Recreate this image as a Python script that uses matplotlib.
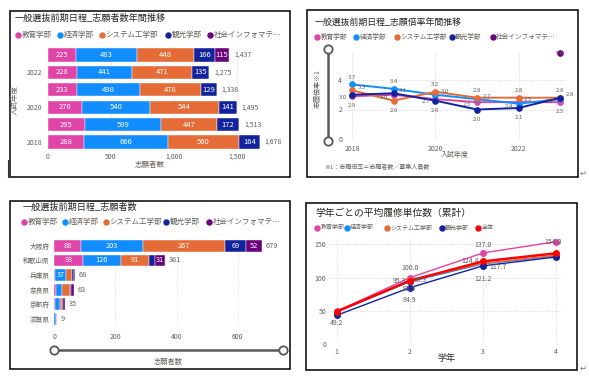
import numpy as np
import matplotlib
matplotlib.use("Agg")
import matplotlib.pyplot as plt
from matplotlib.lines import Line2D
from matplotlib.patches import Rectangle

plt.rcParams['font.family'] = ['Noto Sans CJK JP', 'DejaVu Sans']

W, H = 589, 381
GRAY = '#605E5C'
DARK = '#252423'

# ---- data ----
depts = ['教育学部', '経済学部', 'システム工学部', '観光学部', '社会インフォマテ…']
colors = ['#E044A7', '#118DFF', '#E66C37', '#12239E', '#6B007B']

# panel 1: applicants by year
years = [2018, 2019, 2020, 2021, 2022, 2023]
apps_edu = [288, 295, 270, 233, 228, 225]
apps_eco = [666, 599, 540, 498, 441, 483]
apps_sys = [560, 447, 544, 478, 471, 448]
apps_tour = [164, 172, 141, 129, 135, 166]
apps_info = [0, 0, 0, 0, 0, 115]

# panel 2: application rate by year
rate_edu = [2.9, 3.0, 2.7, 2.5, 2.5, 2.5]
rate_eco = [3.7, 3.4, 3.0, 2.7, 2.4, 2.7]
rate_sys = [3.3, 2.6, 3.2, 2.8, 2.8, 2.8]
rate_tour = [3.0, 3.1, 2.6, 2.0, 2.1, 2.8]
rate_info = [np.nan, np.nan, np.nan, np.nan, np.nan, 5.8]

# panel 3: applicants by prefecture
prefs = ['大阪府', '和歌山県', '兵庫県', '奈良県', '京都府', '滋賀県']
pref_edu = [88, 93, 2, 4, 2, 0]
pref_eco = [203, 126, 37, 20, 18, 6]
pref_sys = [267, 91, 18, 27, 5, 2]
pref_tour = [69, 20, 7, 4, 4, 0]
pref_info = [52, 31, 4, 8, 6, 1]

# panel 4: cumulative credits by grade
grades = [1, 2, 3, 4]
cred_edu = [49.5, 100.0, 137.0, 154.0]
cred_eco = [48.5, 93.9, 120.7, 132.5]
cred_sys = [49.0, 96.3, 121.2, 133.5]
cred_tour = [43.5, 84.9, 117.7, 131.0]
cred_all = [49.2, 95.3, 124.4, 136.5]
cred_names = ['教育学部', '経済学部', 'システム工学部', '観光学部', '全体']
cred_colors = ['#E044A7', '#118DFF', '#E66C37', '#12239E', '#FF0000']

fig = plt.figure(figsize=(W / 100, H / 100), dpi=100)


def add_ax(x0, y0, x1, y1):
    ax = fig.add_axes([x0 / W, 1 - y1 / H, (x1 - x0) / W, (y1 - y0) / H])
    for s in ax.spines.values():
        s.set_visible(False)
    ax.tick_params(length=0, labelsize=5, colors=GRAY)
    return ax


def ftext(x, y, s, **kw):
    kw.setdefault('color', GRAY)
    kw.setdefault('va', 'center')
    fig.text(x / W, 1 - y / H, s, **kw)


def frame(x0, y0, x1, y1):
    fig.add_artist(Rectangle((x0 / W, 1 - y1 / H), (x1 - x0) / W, (y1 - y0) / H,
                             transform=fig.transFigure, fill=False, ec='black', lw=1.1))


def legend(xs, y, labels, cols, fs):
    for x, lab, c in zip(xs, labels, cols):
        fig.add_artist(Line2D([x / W], [1 - y / H], marker='o', ms=3.6, color=c,
                              mec=c, lw=0, transform=fig.transFigure))
        ftext(x + 3.5, y, lab, fontsize=fs)


def slider(x0, y0, x1, y1):
    fig.add_artist(Line2D([x0 / W, x1 / W], [1 - y0 / H, 1 - y1 / H], color='#595959',
                          lw=1.8, marker='o', ms=6, mfc='white', mec='#595959', mew=1.3,
                          transform=fig.transFigure))


# ================= panel 1 =================
frame(10, 10.5, 290, 177)
ftext(15, 18.5, '一般選抜前期日程_志願者数年間推移', fontsize=6.6, color=DARK)
legend([18, 60, 101.7, 168, 210], 34.5, depts, colors, 5.4)

ax1 = add_ax(47.7, 46.3, 275.2, 150.7)
pos = np.arange(len(years))
left = np.zeros(len(years))
for vals, c in zip([apps_edu, apps_eco, apps_sys, apps_tour, apps_info], colors):
    vals = np.array(vals)
    ax1.barh(pos, vals, left=left, height=0.75, color=c, edgecolor='white', lw=0.3)
    for p, l, v in zip(pos, left, vals):
        if v > 0:
            ax1.text(l + v / 2, p, str(v), color='white', fontsize=5.5, ha='center', va='center')
    left += vals
for p, t in zip(pos, left):
    ax1.text(t + 40, p, f'{int(t):,}', color=GRAY, fontsize=5, va='center', clip_on=False)
ax1.set_xlim(0, 1800)
ax1.set_ylim(-0.5, 5.5)
ax1.set_xticks([0, 500, 1000, 1500])
ax1.set_xticklabels(['0', '500', '1,000', '1,500'])
ax1.set_yticks([0, 2, 4])
ax1.set_yticklabels([str(years[i]) for i in [0, 2, 4]])
ax1.tick_params(axis='x', pad=1.5)
ax1.tick_params(axis='y', pad=4)
ax1.grid(axis='x', ls=':', color='#D0D0D0', lw=0.6)
ax1.set_axisbelow(True)
ftext(150, 165, '志願者数', fontsize=5.4, ha='center')
ftext(15, 100, '入試年度', fontsize=5.4, ha='center', rotation=90)
fig.add_artist(Line2D([8 / W, 8 / W], [1 - 160 / H, 1 - 177 / H], color='#333333',
                      lw=0.8, transform=fig.transFigure))

# ================= panel 2 =================
frame(306.5, 10, 578, 177)
ftext(315, 22.5, '一般選抜前期日程_志願倍率年間推移', fontsize=6.4, color=DARK)
legend([317.3, 356, 396.7, 451.7, 492.7], 36.5, depts, colors, 4.8)

ax2 = add_ax(345, 50.5, 566, 139)
rates = [rate_edu, rate_eco, rate_sys, rate_tour, rate_info]
for vals, c in zip(rates, colors):
    ax2.plot(years, vals, color=c, lw=1.4, marker='o', ms=3.8, clip_on=False)
rate_arr = np.array(rates[:4])
for i, yr in enumerate(years):
    col = rate_arr[:, i]
    order = np.argsort(-col, kind='stable')
    for rank, k in enumerate(order):
        v = col[k]
        if rank == 0:
            off, ha = (0, 5), 'center'
        elif rank == len(order) - 1:
            off, ha = (0, -7), 'center'
        elif rank == 1:
            off, ha = (4, 2), 'left'
        else:
            off, ha = (-4, -2), 'right'
        ax2.annotate(f'{v:.1f}', (yr, v), xytext=off, textcoords='offset points',
                     fontsize=4.3, color=GRAY, ha=ha, va='center')
ax2.annotate(f'{rate_info[-1]:.1f}', (years[-1], rate_info[-1]), xytext=(0, 0),
             textcoords='offset points', fontsize=4.3, color=GRAY, ha='center', va='center')
ax2.set_xlim(2017.83, 2023.14)
ax2.set_ylim(0, 6.0)
ax2.set_xticks([2018, 2020, 2022])
ax2.set_yticks([0, 2, 4])
ax2.tick_params(axis='x', pad=4)
ax2.tick_params(axis='y', pad=2)
ax2.grid(ls=':', color='#D0D0D0', lw=0.6)
ax2.set_axisbelow(True)
slider(328, 49, 328, 140.7)
ftext(318, 89, '志願倍率※1', fontsize=5.0, ha='center', rotation=90)
ftext(455, 155, '入試年度', fontsize=5.0, ha='center')
ftext(324, 166, '※1：志願倍率＝志願者数／募集人員数', fontsize=4.3, ha='left')
ftext(583, 173, '↵', fontsize=6, ha='center', color='#777777', family='DejaVu Sans')

# ================= panel 3 =================
frame(10, 200.5, 290, 369)
ftext(22.5, 207.5, '一般選抜前期日程_志願者数', fontsize=6.6, color=DARK)
legend([24, 65, 106, 166, 209], 222, depts, colors, 5.4)

ax3 = add_ax(54.3, 238.5, 283, 326.3)
ppos = np.arange(len(prefs))
left = np.zeros(len(prefs))
for vals, c in zip([pref_edu, pref_eco, pref_sys, pref_tour, pref_info], colors):
    vals = np.array(vals)
    ax3.barh(ppos, vals, left=left, height=0.8, color=c, edgecolor='white', lw=0.3)
    for p, l, v in zip(ppos, left, vals):
        if v >= 30:
            ax3.text(l + v / 2, p, str(v), color='white', fontsize=5.3, ha='center', va='center')
    left += vals
for p, t in zip(ppos, left):
    ax3.text(t + 12, p, f'{int(t)}', color=GRAY, fontsize=5.3, va='center', clip_on=False)
ax3.set_xlim(0, 748)
ax3.set_ylim(5.5, -0.5)
ax3.set_xticks([0, 200, 400, 600])
ax3.set_yticks(ppos)
ax3.set_yticklabels(prefs)
ax3.tick_params(axis='x', pad=5)
ax3.tick_params(axis='y', pad=3.5, labelsize=4.8)
ax3.grid(axis='x', ls=':', color='#D0D0D0', lw=0.6)
ax3.set_axisbelow(True)
slider(54.3, 350, 282.5, 350)
ftext(168, 362, '志願者数', fontsize=5.2, ha='center')

# ================= panel 4 =================
frame(306, 202.5, 577, 370)
ftext(315, 213, '学年ごとの平均履修単位数（累計）', fontsize=7.0, color=DARK)
legend([317.3, 346.7, 386.7, 441.7, 478.3], 227.7, cred_names, cred_colors, 4.3)

ax4 = add_ax(329, 237, 561.8, 344.3)
creds = [cred_edu, cred_eco, cred_sys, cred_tour, cred_all]
for vals, c in zip(creds, cred_colors):
    lw = 1.8 if c == '#FF0000' else 1.0
    ax4.plot(grades, vals, color=c, lw=lw, marker='o', ms=4.0, clip_on=False)
# which point labels are shown (series index, grade index, offset in points)
shown = [
    (4, 0, (0, -8), 'center'),
    (0, 1, (0, 7), 'center'),
    (4, 1, (-3, 0), 'right'),
    (2, 1, (3, 0), 'left'),
    (1, 1, (0, -5), 'center'),
    (3, 1, (0, -9), 'center'),
    (0, 2, (0, 6), 'center'),
    (4, 2, (-3, 0), 'right'),
    (3, 2, (5, -1), 'left'),
    (2, 2, (0, -11), 'center'),
    (0, 3, (-2, 0), 'center'),
]
for s, g, off, ha in shown:
    v = creds[s][g]
    ax4.annotate(f'{v:.1f}', (grades[g], v), xytext=off, textcoords='offset points',
                 fontsize=5.0, color=GRAY, ha=ha, va='center')
ax4.set_xlim(0.895, 4.08)
ax4.set_ylim(0, 161)
ax4.set_xticks(grades)
ax4.set_yticks([0, 50, 100, 150])
ax4.tick_params(axis='x', pad=2.5)
ax4.tick_params(axis='y', pad=2)
ax4.grid(ls=':', color='#D0D0D0', lw=0.6)
ax4.set_axisbelow(True)
ftext(446, 359, '学年', fontsize=6.5, ha='center', color=DARK)
ftext(583, 368, '↵', fontsize=6, ha='center', color='#777777', family='DejaVu Sans')

fig.savefig('out.png', dpi=100, facecolor='white')
